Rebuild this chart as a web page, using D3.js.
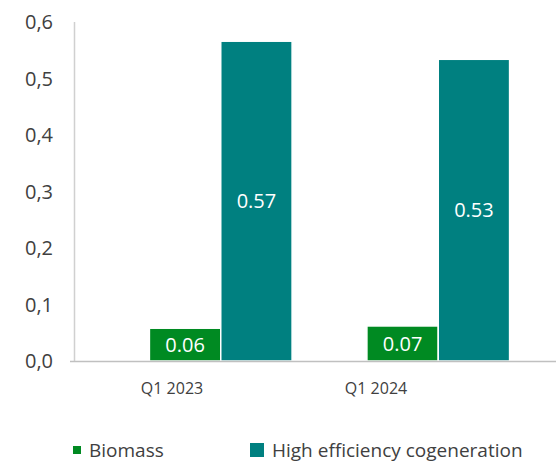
<!DOCTYPE html>
<html>
<head>
<meta charset="utf-8">
<script src="https://cdn.jsdelivr.net/npm/d3@7"></script>
<style>
  body { margin: 0; background: #fff; }
  text { font-family: "Open Sans", Roboto, sans-serif; }
</style>
</head>
<body>
<div id="chart"></div>
<script>
const width = 556, height = 462;

const categories = ["Q1 2023", "Q1 2024"];
const seriesNames = ["Biomass", "High efficiency cogeneration"];
const biomass = [0.058, 0.062];
const cogeneration = [0.566, 0.534];
const biomassLabels = ["0.06", "0.07"];
const cogenerationLabels = ["0.57", "0.53"];
const yTicks = [0, 0.1, 0.2, 0.3, 0.4, 0.5, 0.6];
const colors = ["#008a22", "#008080"];

const data = categories.map((c, i) => ({
    cat: c,
    values: [
        {key: seriesNames[0], v: biomass[i], label: biomassLabels[i]},
        {key: seriesNames[1], v: cogeneration[i], label: cogenerationLabels[i]}
    ]
}));

const svg = d3.select("#chart")
    .append("svg")
    .attr("width", width)
    .attr("height", height);

let y = d3.scaleLinear().domain([0, 0.6]).range([361, 22]);

let x0 = d3.scaleBand().domain(categories).range([112, 547]).paddingInner(0.344).paddingOuter(0.172);
let x1 = d3.scaleBand().domain(seriesNames).range([0, x0.bandwidth()]);
let xLab = d3.scalePoint().domain(categories).range([172, 376]);

let color = d3.scaleOrdinal().domain(seriesNames).range(colors);

// y axis labels
svg.append("g")
    .selectAll("text")
    .data(yTicks)
    .enter()
    .append("text")
    .attr("x", 53)
    .attr("y", d => y(d))
    .attr("dy", "0.36em")
    .style("text-anchor", "end")
    .style("font-size", "20px")
    .style("fill", "#404040")
    .text(d => d3.format(".1f")(d).replace(".", ","));

svg.append("line")
    .attr("x1", 74.5).attr("x2", 74.5)
    .attr("y1", y(0.6)).attr("y2", y(0))
    .attr("stroke", "#d0d0d0")
    .attr("stroke-width", 1.5);

// bars
let groups = svg.append("g")
    .selectAll("g")
    .data(data)
    .enter()
    .append("g")
    .attr("transform", d => `translate(${x0(d.cat)},0)`);

groups.selectAll("rect")
    .data(d => d.values)
    .enter()
    .append("rect")
    .attr("x", d => x1(d.key))
    .attr("y", d => y(d.v))
    .attr("width", x1.bandwidth())
    .attr("height", d => y(0) - y(d.v))
    .attr("fill", d => color(d.key))
    .attr("stroke", "#fff")
    .attr("stroke-width", 1.5);

groups.selectAll(".val")
    .data(d => d.values)
    .enter()
    .append("text")
    .attr("class", "val")
    .attr("x", d => x1(d.key) + x1.bandwidth() / 2)
    .attr("y", d => (y(d.v) + y(0)) / 2)
    .attr("dy", "0.36em")
    .style("text-anchor", "middle")
    .style("font-size", "20px")
    .style("fill", "#fff")
    .text(d => d.label);

// baseline
svg.append("line")
    .attr("x1", 70).attr("x2", width)
    .attr("y1", 361.5).attr("y2", 361.5)
    .attr("stroke", "#c0c0c0")
    .attr("stroke-width", 1.5);

// x labels
svg.append("g")
    .selectAll("text")
    .data(categories)
    .enter()
    .append("text")
    .attr("x", d => xLab(d))
    .attr("y", 388)
    .attr("dy", "0.36em")
    .style("text-anchor", "middle")
    .style("font-size", "16px")
    .style("fill", "#404040")
    .text(d => d);

// legend
let legend = [
    {name: seriesNames[0], x: 73, size: 8},
    {name: seriesNames[1], x: 250, size: 14}
];
let lg = svg.append("g")
    .selectAll("g")
    .data(legend)
    .enter()
    .append("g")
    .attr("transform", d => `translate(${d.x},450)`);

lg.append("rect")
    .attr("x", 0)
    .attr("y", d => -d.size / 2)
    .attr("width", d => d.size)
    .attr("height", d => d.size)
    .attr("fill", d => color(d.name));

lg.append("text")
    .attr("x", d => d.size + 8)
    .attr("y", 0)
    .attr("dy", "0.36em")
    .style("font-size", "19px")
    .style("fill", "#404040")
    .text(d => d.name);
</script>
</body>
</html>
